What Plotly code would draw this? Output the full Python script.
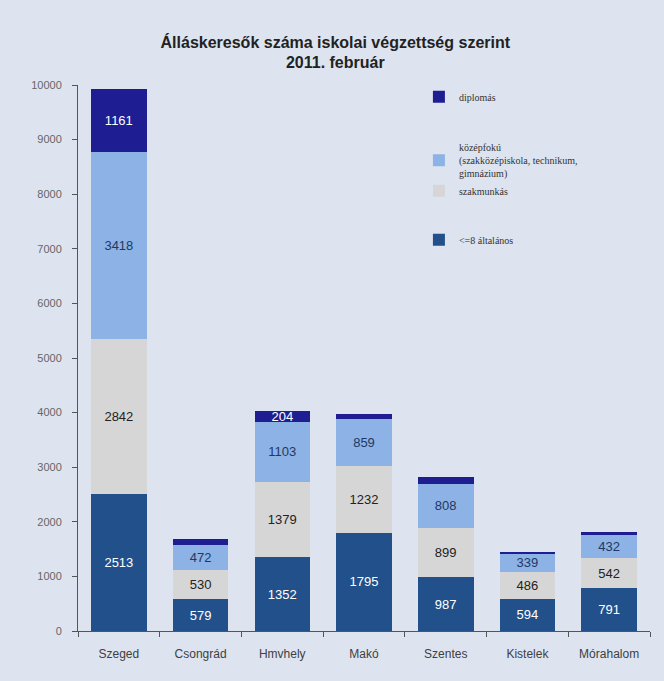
import plotly.graph_objects as go

categories = ["Szeged", "Csongrád", "Hmvhely", "Makó", "Szentes", "Kistelek", "Mórahalom"]
altalanos = [2513, 579, 1352, 1795, 987, 594, 791]
szakmunkas = [2842, 530, 1379, 1232, 899, 486, 542]
kozepfoku = [3418, 472, 1103, 859, 808, 339, 432]
diplomas = [1161, 95, 204, 90, 130, 25, 50]
diplomas_labels = ["1161", "", "204", "", "", "", ""]

series = [
    ("<=8 általános", altalanos, [str(v) for v in altalanos], "#21508A", "white", "legend3"),
    ("szakmunkás", szakmunkas, [str(v) for v in szakmunkas], "#D6D6D6", "#222222", "legend2"),
    ("középfokú<br>(szakközépiskola, technikum,<br>gimnázium)", kozepfoku, [str(v) for v in kozepfoku], "#8DB2E5", "#1F3864", "legend2"),
    ("diplomás", diplomas, diplomas_labels, "#1E1E92", "white", "legend"),
]

fig = go.Figure()
for name, vals, labels, color, tcol, lg in series:
    fig.add_trace(go.Bar(
        x=categories, y=vals, name=name, text=labels,
        textposition="inside", insidetextanchor="middle", textangle=0,
        textfont=dict(family="Liberation Sans, Arial", size=13, color=tcol),
        marker=dict(color=color, line=dict(width=0)),
        width=0.68, legend=lg,
    ))

bg = "#DDE4F0"
legfont = dict(family="Liberation Serif, Times New Roman, serif", size=10, color="#333333")
fig.update_layout(
    barmode="stack",
    width=664, height=681,
    paper_bgcolor=bg, plot_bgcolor=bg,
    margin=dict(l=78, r=14, t=85, b=50),
    title=dict(text="<b>Álláskeresők száma iskolai végzettség szerint<br>2011. február</b>",
               x=0.505, xanchor="center", y=0.93, yanchor="top",
               font=dict(family="Liberation Sans, Arial", size=16, color="#222222")),
    uniformtext=dict(minsize=13, mode="show"),
    showlegend=True,
    legend=dict(x=0.596, y=1.005, xanchor="left", yanchor="top", bgcolor="rgba(0,0,0,0)",
                font=legfont, itemwidth=30, tracegroupgap=0),
    legend2=dict(x=0.596, y=0.91, xanchor="left", yanchor="top", bgcolor="rgba(0,0,0,0)",
                 font=legfont, itemwidth=30, traceorder="reversed", tracegroupgap=0),
    legend3=dict(x=0.596, y=0.743, xanchor="left", yanchor="top", bgcolor="rgba(0,0,0,0)",
                 font=legfont, itemwidth=30),
    xaxis=dict(showline=True, linecolor="#555555", linewidth=1, ticks="outside", tickson="boundaries",
               ticklen=5, tickcolor="#555555", ticklabelstandoff=12,
               tickfont=dict(family="Liberation Sans, Arial", size=12, color="#404040"),
               showgrid=False),
    yaxis=dict(range=[0, 10000], dtick=1000, tickformat="d", showline=True, linecolor="#555555", linewidth=1,
               ticks="outside", ticklen=5, tickcolor="#555555", showgrid=False, zeroline=False,
               ticklabelstandoff=8,
               tickfont=dict(family="Liberation Sans, Arial", size=11, color="#666666")),
)

fig.write_html("out.html", config={"displayModeBar": False},
               post_script="document.body.style.margin='0';")
